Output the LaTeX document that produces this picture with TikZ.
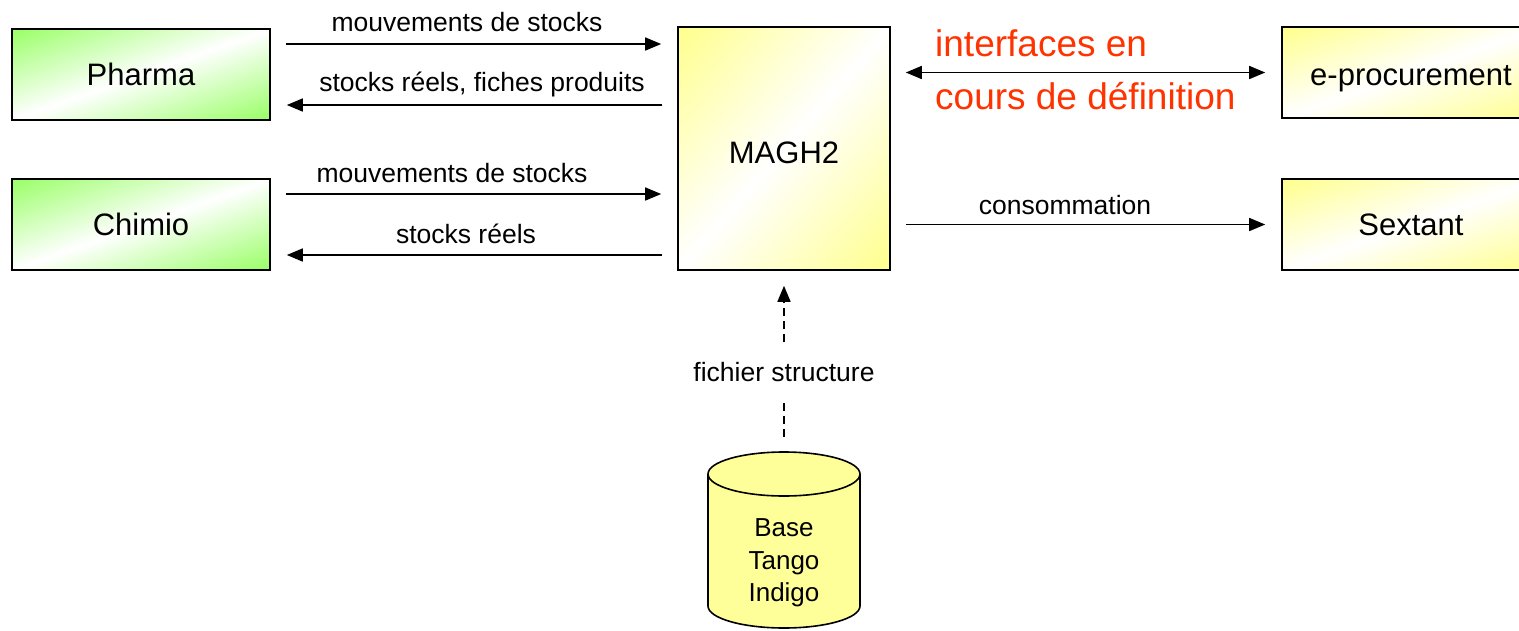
\documentclass[tikz,border=0pt]{standalone}
\usepackage{fontspec}
\setmainfont{Liberation Sans}
\usetikzlibrary{arrows.meta}
\definecolor{yY}{RGB}{255,255,153}
\definecolor{rR}{RGB}{255,51,0}
% colour depends on distance from the bottom-left/top-right diagonal of the box
\pgfdeclarefunctionalshading{diagG}{\pgfpointorigin}{\pgfpoint{100bp}{100bp}}{}{
  sub abs 50 div
  dup 0.4 mul 1 exch sub exch 1 exch 0.6 mul 1 exch sub
}
\pgfdeclarefunctionalshading{diagY}{\pgfpointorigin}{\pgfpoint{100bp}{100bp}}{}{
  sub abs 50 div
  0.45 mul 1 exch sub 1 1 3 -1 roll
}
\begin{document}
\begin{tikzpicture}[x=1pt,y=-1pt,
  box/.style={draw=black, line width=1.6pt, inner sep=0pt, shade,
    font=\fontsize{31}{36}\selectfont, text height=22.3pt, text depth=0pt},
  gbox/.style={box, shading=diagG, minimum width=258pt, minimum height=91pt},
  ybox/.style={box, shading=diagY},
  lbl/.style={font=\fontsize{26.5}{30}\selectfont, text height=19pt, text depth=0pt, inner sep=0pt},
  redlbl/.style={font=\fontsize{37}{42}\selectfont, text=rR, text height=26.6pt, text depth=0pt, inner sep=0pt},
  tip/.style={-{Triangle[length=16pt,width=13pt]}},
  arr/.style={line width=1.6pt, tip, shorten <=15pt, shorten >=16pt},
  darr/.style={line width=1.6pt, {Triangle[length=16pt,width=13pt]}-{Triangle[length=16pt,width=13pt]}, shorten <=15pt, shorten >=16pt},
  dsh/.style={line width=1.6pt, dash pattern=on 8pt off 5pt}
]
\useasboundingbox (0,0) rectangle (1519,630);
\fill[white] (0,0) rectangle (1519,630);

\node[gbox] (pharma) at (141,74.5) {Pharma};
\node[gbox] (chimio) at (141,224.5) {Chimio};
\node[ybox, minimum width=212pt, minimum height=243pt, text height=29.3pt] (magh) at (784,148.5) {MAGH2};
\node[ybox, minimum width=258pt, minimum height=91pt, text height=25pt] (eproc) at (1411,72.5) {e-procurement};
\node[ybox, minimum width=258pt, minimum height=91pt] (sextant) at (1411,224.5) {Sextant};

% cylinder
\filldraw[fill=yY, draw=black, line width=1.6pt]
  (708,474) -- (708,606) arc[start angle=180, end angle=360, x radius=76pt, y radius=22pt]
  -- (860,474) arc[start angle=0, end angle=180, x radius=76pt, y radius=22pt] -- cycle;
\draw[line width=1.6pt] (708,474) arc[start angle=180, end angle=360, x radius=76pt, y radius=22pt];
\coordinate (dbtop) at (784,452);
\node[inner sep=0pt, align=center, font=\fontsize{26}{32.5}\selectfont] (db) at (784,563) {Base\\Tango\\Indigo};

% left arrows
\draw[arr] (pharma.east |- 0,44) -- node[lbl, yshift=22pt, xshift=-7pt] (l1) {mouvements de stocks} (magh.west |- 0,44);
\draw[arr] (magh.west |- 0,105) -- node[lbl, yshift=23pt, xshift=8pt] (l2) {stocks réels, fiches produits} (pharma.east |- 0,105);
\draw[arr] (chimio.east |- 0,194) -- node[lbl, yshift=21pt, xshift=-22pt] (l3) {mouvements de stocks} (magh.west |- 0,194);
\draw[arr] (magh.west |- 0,255) -- node[lbl, yshift=21pt, xshift=-8pt] (l4) {stocks réels} (chimio.east |- 0,255);

% right arrows
\draw[darr] (magh.east |- eproc.center) -- (eproc.west);
\node[redlbl, anchor=west] (r1) at (935,43) {interfaces en};
\node[redlbl, anchor=west] (r2) at (935,96) {cours de définition};
\draw[arr] (magh.east |- sextant.center) -- node[lbl, yshift=20pt, xshift=-21pt] (l5) {consommation} (sextant.west);

% dashed
\node[lbl, inner ysep=20pt] (fs) at (784,372) {fichier structure};
\draw[dsh, shorten <=15pt] (dbtop) -- (fs.south);
\draw[dsh, tip, shorten >=15pt] (fs.north) -- (magh.south);
\end{tikzpicture}
\end{document}
